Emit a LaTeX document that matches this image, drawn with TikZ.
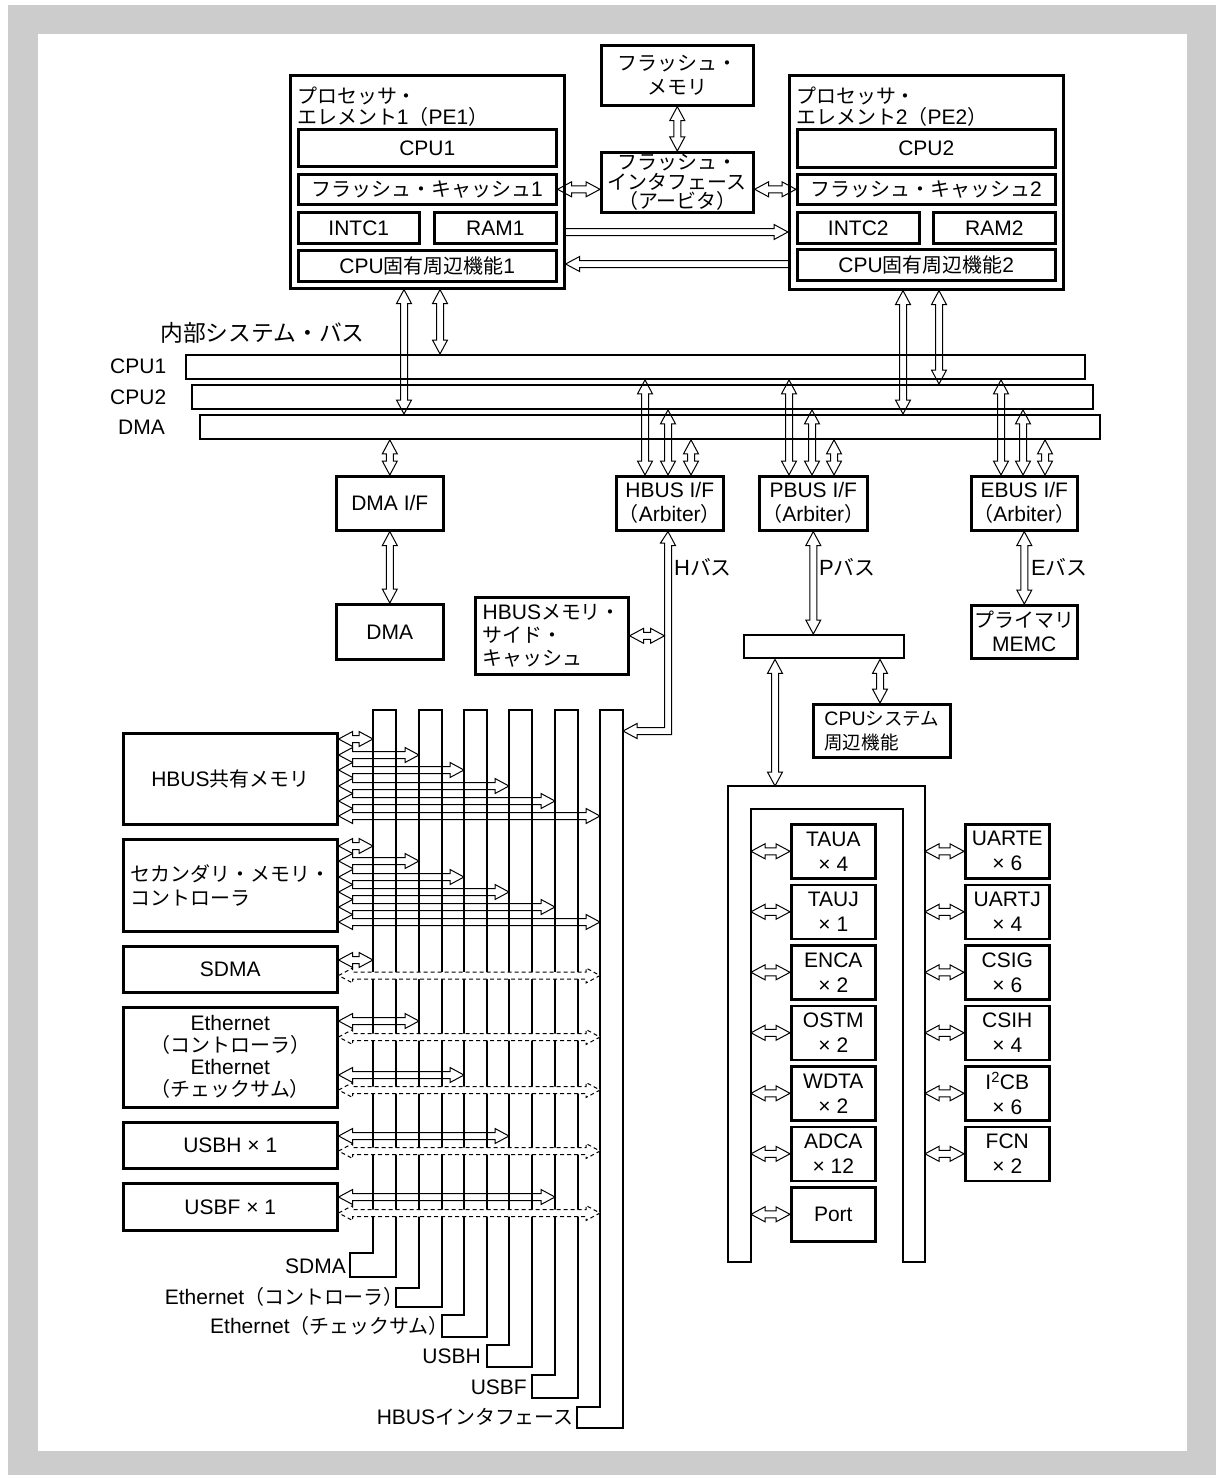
\documentclass[tikz,border=0pt]{standalone}
\usepackage{fontspec}
\setmainfont{Liberation Sans}
\newfontfamily\jpfont[Scale=0.95]{Noto Sans CJK JP}
% switch to the Japanese font for kana, kanji and fullwidth forms
\XeTeXinterchartokenstate=1
\newXeTeXintercharclass\jpclass
\newcount\jpcnt
\newcommand\jprange[2]{\jpcnt=#1\relax
  \loop\ifnum\jpcnt<#2\relax
    \XeTeXcharclass\jpcnt=\jpclass
    \advance\jpcnt by 1
  \repeat}
\jprange{"3000}{"3100}
\jprange{"4E00}{"A000}
\jprange{"FF00}{"FFF0}
\XeTeXinterchartoks 0 \jpclass={\begingroup\jpfont}
\XeTeXinterchartoks 4095 \jpclass={\begingroup\jpfont}
\XeTeXinterchartoks \jpclass 0={\endgroup}
\XeTeXinterchartoks \jpclass 4095={\endgroup}
\usetikzlibrary{calc}
% hollow arrow sizes
\newcommand\arrL{14pt}
\newcommand\arrS{3.5pt}
\newcommand\arrH{4pt}
\newcommand\arrA{28.18}
\newcommand\arrD{15.88pt}
\begin{document}
\begin{tikzpicture}[x=1pt,y=-1pt,
  font=\fontsize{21}{24}\selectfont,
  box/.style={draw, line width=2.6pt, inner sep=0pt, align=center, anchor=north west},
  bar/.style={draw, line width=1.9pt, inner sep=0pt, anchor=north west},
  pbox/.style={box, minimum width=84pt, minimum height=54pt, font=\fontsize{21}{25}\selectfont},
  lbl/.style={inner sep=0pt},
  col/.style={line width=2.5pt},
  harr/.style={line width=1pt, to path={
    let \p1=(\tikztostart), \p2=(\tikztotarget),
        \n1={atan2(\y2-\y1,\x2-\x1)}, \n2={veclen(\x2-\x1,\y2-\y1)} in
    (\tikztostart) -- ++(\n1+\arrA:\arrD) -- ++(\n1-90:\arrH)
    -- ++(\n1:\n2-2*\arrL) -- ++(\n1+90:\arrH) -- ++(\n1-\arrA:\arrD)
    -- ++(\n1+180+\arrA:\arrD) -- ++(\n1+90:\arrH) -- ++(\n1+180:\n2-2*\arrL)
    -- ++(\n1-90:\arrH) -- ++(\n1+180-\arrA:\arrD) -- cycle}},
  harrd/.style={harr, dash pattern=on 4pt off 3pt, fill=white},
  harr1/.style={line width=1pt, to path={
    let \p1=(\tikztostart), \p2=(\tikztotarget),
        \n1={atan2(\y2-\y1,\x2-\x1)}, \n2={veclen(\x2-\x1,\y2-\y1)} in
    (\tikztostart) ++(\n1+90:\arrS) -- ++(\n1:\n2-\arrL) -- ++(\n1+90:\arrH)
    -- ++(\n1-\arrA:\arrD) -- ++(\n1+180+\arrA:\arrD) -- ++(\n1+90:\arrH)
    -- ++(\n1+180:\n2-\arrL)}}]

% frame
\fill[gray!40] (8,5) rectangle (1216,1475);
\fill[white] (38,34) rectangle (1187,1451);
\useasboundingbox (0,0) rectangle (1216,1475);

% processor elements and flash
\node[box, minimum width=274pt, minimum height=213pt] (pe1) at (289,74) {};
\node[lbl, anchor=north west, align=left, font=\fontsize{21}{20.5}\selectfont] (pe1t) at (297,87) {プロセッサ・\\エレメント1（PE1）};
\node[box, minimum width=258pt, minimum height=37pt] (cpu1) at (297,128) {CPU1};
\node[box, minimum width=258pt, minimum height=30pt] (fc1) at (297,173) {フラッシュ・キャッシュ1};
\node[box, minimum width=121pt, minimum height=31pt] (intc1) at (297,211) {INTC1};
\node[box, minimum width=122pt, minimum height=31pt] (ram1) at (433,211) {RAM1};
\node[box, minimum width=258pt, minimum height=31pt] (per1) at (297,249) {CPU固有周辺機能1};

\node[box, minimum width=274pt, minimum height=214pt] (pe2) at (788,74) {};
\node[lbl, anchor=north west, align=left, font=\fontsize{21}{20.5}\selectfont] (pe2t) at (796,87) {プロセッサ・\\エレメント2（PE2）};
\node[box, minimum width=258pt, minimum height=38pt] (cpu2) at (796,128) {CPU2};
\node[box, minimum width=258pt, minimum height=30pt] (fc2) at (796,173) {フラッシュ・キャッシュ2};
\node[box, minimum width=122pt, minimum height=31pt] (intc2) at (796,211) {INTC2};
\node[box, minimum width=122pt, minimum height=31pt] (ram2) at (932,211) {RAM2};
\node[box, minimum width=258pt, minimum height=31pt] (per2) at (796,248) {CPU固有周辺機能2};

\node[box, minimum width=152pt, minimum height=60pt] (fmem) at (600,44) {フラッシュ・\\メモリ};
\node[box, minimum width=152pt, minimum height=60pt, font=\fontsize{21}{19.5}\selectfont] (fif) at (600,151) {フラッシュ・\\インタフェース\\（アービタ）};

\draw[harr] (fmem.south) to (fif.north);
\draw[harr] (fc1.east) to (fc1.east -| fif.west);
\draw[harr] (fc2.west -| fif.east) to (fc2.west);
\draw[harr1] (pe1.east |- 0,232) to (pe2.west |- 0,232);
\draw[harr1] (pe2.west |- 0,264) to (pe1.east |- 0,264);

% internal system bus
\node[lbl, anchor=west, font=\fontsize{24}{26}\selectfont] (isb) at (160,333) {内部システム・バス};
\node[bar, minimum width=899pt, minimum height=24pt] (b1) at (185,354) {};
\node[bar, minimum width=901pt, minimum height=24pt] (b2) at (191,384) {};
\node[bar, minimum width=900pt, minimum height=24pt] (b3) at (199,414) {};
\node[lbl, anchor=west] (b1l) at (110,366) {CPU1};
\node[lbl, anchor=west] (b2l) at (110,397) {CPU2};
\node[lbl, anchor=west] (b3l) at (118,427) {DMA};

\draw[harr] (pe1.south -| 404,0) to (b3.north -| 404,0);
\draw[harr] (pe1.south -| 440,0) to (b1.north -| 440,0);
\draw[harr] (pe2.south -| 903,0) to (b3.north -| 903,0);
\draw[harr] (pe2.south -| 939,0) to (b2.north -| 939,0);

% bus interfaces
\node[box, minimum width=107pt, minimum height=54pt] (dmaif) at (335,475) {DMA I/F};
\node[box, minimum width=107pt, minimum height=55pt] (dma) at (335,603) {DMA};
\node[box, minimum width=107pt, minimum height=54pt] (hbif) at (615,475) {HBUS I/F\\（Arbiter）};
\node[box, minimum width=108pt, minimum height=54pt] (pbif) at (758,475) {PBUS I/F\\（Arbiter）};
\node[box, minimum width=106pt, minimum height=54pt] (ebif) at (970,475) {EBUS I/F\\（Arbiter）};

\draw[harr] (b3.south -| dmaif.north) to (dmaif.north);
\draw[harr] (dmaif.south) to (dma.north);
\foreach \xx/\b in {645/b1, 668/b2, 691/b3}
  \draw[harr] (\b.south -| \xx,0) to (hbif.north -| \xx,0);
\foreach \xx/\b in {789/b1, 812/b2, 834/b3}
  \draw[harr] (\b.south -| \xx,0) to (pbif.north -| \xx,0);
\foreach \xx/\b in {1001/b1, 1023/b2, 1045/b3}
  \draw[harr] (\b.south -| \xx,0) to (ebif.north -| \xx,0);

\node[lbl, anchor=west, font=\fontsize{22}{24}\selectfont] (hbl) at (674,567) {Hバス};
\node[lbl, anchor=west, font=\fontsize{22}{24}\selectfont] (pbl) at (819,567) {Pバス};
\node[lbl, anchor=west, font=\fontsize{22}{24}\selectfont] (ebl) at (1031,567) {Eバス};

\node[box, minimum width=153pt, minimum height=77pt, align=left, font=\fontsize{21}{23}\selectfont] (hmem) at (474,596) {HBUSメモリ・\\サイド・\\キャッシュ};
\node[bar, line width=2.4pt, minimum width=160pt, minimum height=23pt] (pbar) at (743,634) {};
\node[box, minimum width=137pt, minimum height=53pt, align=left, font=\fontsize{19.5}{24}\selectfont] (cpusys) at (812,703) {CPUシステム\\周辺機能};
\node[box, minimum width=106pt, minimum height=53pt] (pmemc) at (970,604) {プライマリ\\MEMC};

\draw[harr] (hmem.east) to (hmem.east -| 664.5,0);
\draw[harr] (pbif.south) to (pbar.north -| pbif.south);
\draw[harr] (pbar.south -| 880,0) to (cpusys.north -| 880,0);
\draw[harr] (ebif.south) to (pmemc.north);

% H bus down to the HBUS interface column
\coordinate (c6r) at (623,731);
\draw[line width=1pt] (hbif.south -| 668,0) -- ++(7.5,14) -- ++(-4,0) -- (671.5,734.5)
  -- (637,734.5) -- ++(0,4) -- (c6r) -- (637,723.5) -- ++(0,4) -- (664.5,727.5)
  -- (664.5,543) -- ++(-4,0) -- cycle;

% HBUS columns
\foreach \xl/\ya/\xf/\yb [count=\i] in {373/1253/350/1277, 419/1288/396/1307,
    464/1315/442/1337, 509/1345/487/1367, 555/1375/532/1398, 600/1407/577/1428}{
  \coordinate (c\i) at (\xl,710);
  \draw[col] (\xl,710) -- (\xl,\ya) -- (\xf,\ya) -- (\xf,\yb) -- (\xl+23,\yb) -- (\xl+23,710) -- cycle;
}
\node[lbl, anchor=east] (lsdma) at (346,1266) {SDMA};
\node[lbl, anchor=east] (leth1) at (404,1297) {Ethernet（コントローラ）};
\node[lbl, anchor=east] (leth2) at (449,1326) {Ethernet（チェックサム）};
\node[lbl, anchor=east] (lusbh) at (481,1356) {USBH};
\node[lbl, anchor=east] (lusbf) at (527,1387) {USBF};
\node[lbl, anchor=east] (lhif) at (574,1417) {HBUSインタフェース};

% HBUS masters
\node[box, minimum width=214pt, minimum height=91pt] (hsm) at (122,732) {HBUS共有メモリ};
\node[box, minimum width=214pt, minimum height=92pt, align=left] (smc) at (122,838) {セカンダリ・メモリ・\\コントローラ};
\node[box, minimum width=214pt, minimum height=46pt] (sdma) at (122,945) {SDMA};
\node[box, minimum width=214pt, minimum height=100pt, font=\fontsize{21}{22}\selectfont] (eth) at (122,1006) {Ethernet\\（コントローラ）\\Ethernet\\（チェックサム）};
\node[box, minimum width=214pt, minimum height=46pt] (usbh) at (122,1121) {USBH × 1};
\node[box, minimum width=214pt, minimum height=47pt] (usbf) at (122,1182) {USBF × 1};

\foreach \i/\yy in {1/739, 2/755, 3/770, 4/786, 5/801, 6/816}
  \draw[harr] (hsm.east |- 0,\yy) to (c\i |- 0,\yy);
\foreach \i/\yy in {1/846, 2/861, 3/877, 4/892, 5/907, 6/922}
  \draw[harr] (smc.east |- 0,\yy) to (c\i |- 0,\yy);
\foreach \b/\i/\yy in {sdma/1/960, eth/2/1021, eth/3/1075, usbh/4/1136, usbf/5/1197}
  \draw[harr] (\b.east |- 0,\yy) to (c\i |- 0,\yy);
\foreach \b/\yy in {sdma/975.5, eth/1037, eth/1090, usbh/1151, usbf/1213}
  \draw[harrd] (\b.east |- 0,\yy) to (c6 |- 0,\yy);

% P bus peripherals
\coordinate (ut) at (775,786);
\draw[col] (728,1262) -- (728,786) -- (925,786) -- (925,1262) -- (903,1262)
  -- (903,809) -- (751,809) -- (751,1262) -- cycle;
\draw[harr] (pbar.south -| ut) to (ut);

\foreach \nm/\t [count=\i from 0] in {taua/TAUA\\× 4, tauj/TAUJ\\× 1, enca/ENCA\\× 2,
    ostm/OSTM\\× 2, wdta/WDTA\\× 2, adca/ADCA\\× 12, port/Port}{
  \node[pbox] (\nm) at (790,823+60.5*\i) {\t};
  \draw[harr] (\nm.west -| 751,0) to (\nm.west);
}
\foreach \nm/\t [count=\i from 0] in {uarte/UARTE\\× 6, uartj/UARTJ\\× 4, csig/CSIG\\× 6,
    csih/CSIH\\× 4, i2cb/I\textsuperscript{2}CB\\× 6, fcn/FCN\\× 2}{
  \node[pbox] (\nm) at (964,823+60.5*\i) {\t};
  \draw[harr] (\nm.west -| 925,0) to (\nm.west);
}
\end{tikzpicture}
\end{document}
